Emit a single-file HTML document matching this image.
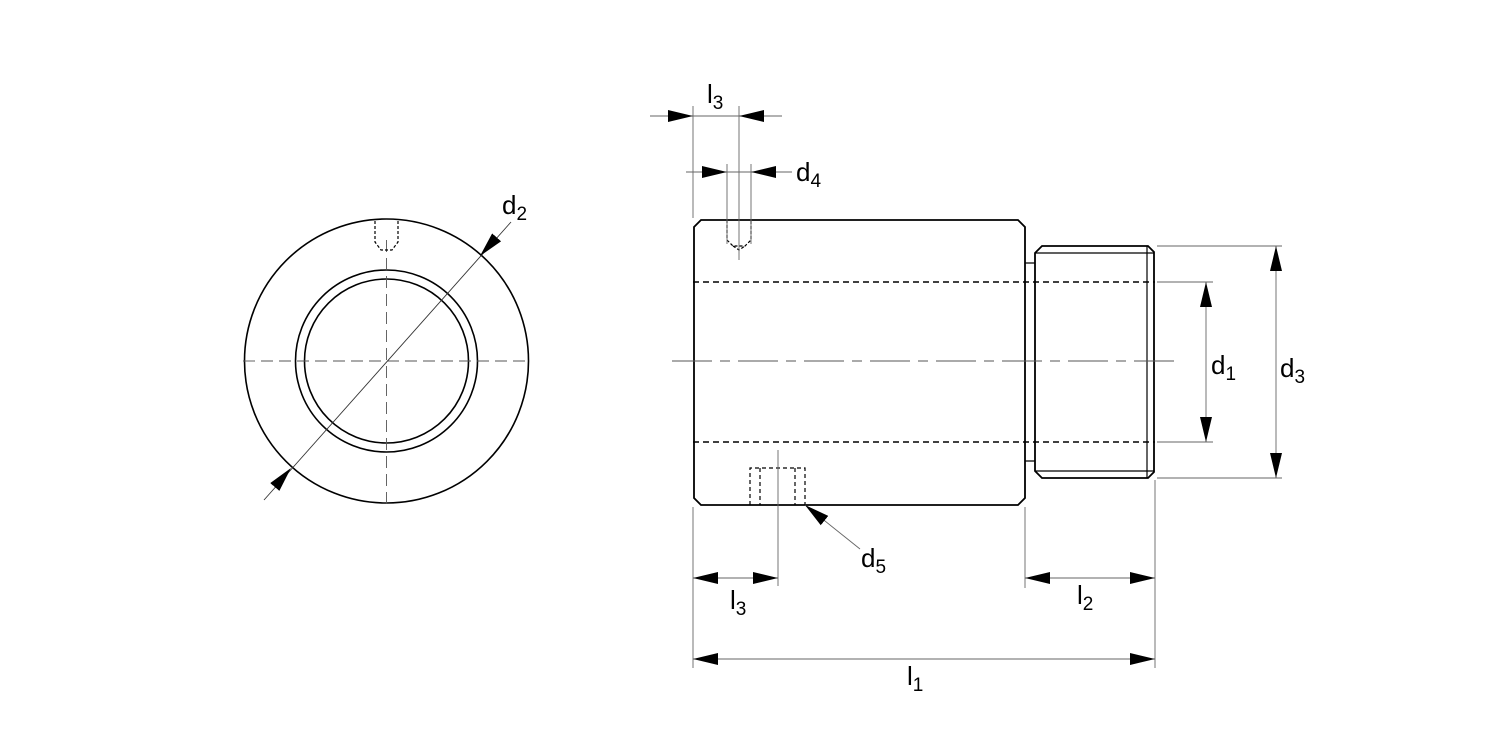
<!DOCTYPE html>
<html><head><meta charset="utf-8"><style>
html,body{margin:0;padding:0;background:#fff}
svg{display:block}
text{font-family:"Liberation Sans",Arial,sans-serif;fill:#000}
</style></head><body>
<svg width="1500" height="750" viewBox="0 0 1500 750" xmlns="http://www.w3.org/2000/svg">
<defs>
<marker id="a" viewBox="0 0 25 12" refX="25" refY="6" markerWidth="25" markerHeight="12" markerUnits="userSpaceOnUse" orient="auto-start-reverse"><path d="M0,0 L25,6 L0,12 Z" fill="#000"/></marker>
</defs>
<g fill="none" stroke="#000">
<circle cx="386.5" cy="361" r="142" stroke-width="1.6"/>
<circle cx="386.5" cy="361" r="91" stroke-width="1.6"/>
<circle cx="386.5" cy="361" r="82" stroke-width="1.6"/>
<line x1="243" y1="361" x2="530" y2="361" stroke="#555" stroke-width="0.9" stroke-dasharray="12,6"/>
<line x1="386.5" y1="240" x2="386.5" y2="508" stroke="#555" stroke-width="0.9" stroke-dasharray="12,6"/>
<path d="M375,221 V242 L381,250 H392 L398,242 V221" stroke-width="1.2" stroke-dasharray="3,2"/>
<line x1="264" y1="500" x2="511" y2="222" stroke="#333" stroke-width="0.9"/>
<line x1="505" y1="228" x2="480" y2="256" stroke="none" marker-end="url(#a)"/>
<line x1="268" y1="495" x2="291" y2="468" stroke="none" marker-end="url(#a)"/>

<path d="M701,220 H1018 L1025,227 V498 L1018,505 H701 L694,498 V227 Z" stroke-width="1.8"/>
<path d="M1025,263 H1035 M1025,461 H1035" stroke-width="1.2"/>
<path d="M1042,246 H1148 L1154,252 V472 L1148,478 H1042 L1035,471 V253 Z" stroke-width="1.8"/>
<path d="M1035,253 H1154 M1035,471 H1154 M1147,246 V478" stroke-width="1.2"/>
<line x1="693" y1="282" x2="1155" y2="282" stroke-width="1.5" stroke-dasharray="6,4"/>
<line x1="693" y1="442" x2="1155" y2="442" stroke-width="1.5" stroke-dasharray="6,4"/>
<line x1="672" y1="361" x2="1175" y2="361" stroke="#555" stroke-width="0.9" stroke-dasharray="40,8,10,8"/>
<path d="M727,220 V240 L733,246 H745 L751,240 V220 M733,246 L739,250 L745,246" stroke-width="1.2" stroke-dasharray="3,2"/>
<path d="M750,505 V468 H805 V505 M760,468 V505 M795,468 V505" stroke-width="1.2" stroke-dasharray="4,3"/>

<g stroke="#666" stroke-width="0.9">
<line x1="693" y1="106" x2="693" y2="218"/>
<line x1="739" y1="106" x2="739" y2="260"/>
<line x1="727" y1="164" x2="727" y2="244"/>
<line x1="751" y1="164" x2="751" y2="244"/>
<line x1="693" y1="507" x2="693" y2="668"/>
<line x1="778" y1="450" x2="778" y2="586"/>
<line x1="1025" y1="507" x2="1025" y2="588"/>
<line x1="1155" y1="480" x2="1155" y2="668"/>
<line x1="1157" y1="246" x2="1282" y2="246"/>
<line x1="1157" y1="478" x2="1282" y2="478"/>
<line x1="1157" y1="282" x2="1213" y2="282"/>
<line x1="1157" y1="442" x2="1213" y2="442"/>
<line x1="650" y1="116" x2="782" y2="116"/>
<line x1="686" y1="172" x2="792" y2="172"/>
<line x1="693" y1="578" x2="778" y2="578"/>
<line x1="1025" y1="578" x2="1155" y2="578"/>
<line x1="693" y1="659" x2="1155" y2="659"/>
<line x1="1206" y1="282" x2="1206" y2="442"/>
<line x1="1276" y1="246" x2="1276" y2="478"/>
<line x1="805" y1="505" x2="860" y2="549"/>
</g>
<g stroke="none">
<line x1="660" y1="116" x2="693" y2="116" marker-end="url(#a)"/>
<line x1="772" y1="116" x2="739" y2="116" marker-end="url(#a)"/>
<line x1="695" y1="172" x2="727" y2="172" marker-end="url(#a)"/>
<line x1="783" y1="172" x2="751" y2="172" marker-end="url(#a)"/>
<line x1="693" y1="578" x2="778" y2="578" marker-start="url(#a)" marker-end="url(#a)"/>
<line x1="1025" y1="578" x2="1155" y2="578" marker-start="url(#a)" marker-end="url(#a)"/>
<line x1="693" y1="659" x2="1155" y2="659" marker-start="url(#a)" marker-end="url(#a)"/>
<line x1="1206" y1="282" x2="1206" y2="442" marker-start="url(#a)" marker-end="url(#a)"/>
<line x1="1276" y1="246" x2="1276" y2="478" marker-start="url(#a)" marker-end="url(#a)"/>
<line x1="840" y1="533" x2="805" y2="505" marker-end="url(#a)"/>
</g>
</g>
<g font-size="26">
<text x="707" y="103">l<tspan font-size="19" dy="6">3</tspan></text>
<text x="796" y="181">d<tspan font-size="19" dy="6">4</tspan></text>
<text x="502" y="214">d<tspan font-size="19" dy="6">2</tspan></text>
<text x="1211" y="374">d<tspan font-size="19" dy="6">1</tspan></text>
<text x="1280" y="377">d<tspan font-size="19" dy="6">3</tspan></text>
<text x="861" y="567">d<tspan font-size="19" dy="6">5</tspan></text>
<text x="730" y="609">l<tspan font-size="19" dy="6">3</tspan></text>
<text x="1077" y="604">l<tspan font-size="19" dy="6">2</tspan></text>
<text x="907" y="685">l<tspan font-size="19" dy="6">1</tspan></text>
</g>
</svg>
</body></html>
